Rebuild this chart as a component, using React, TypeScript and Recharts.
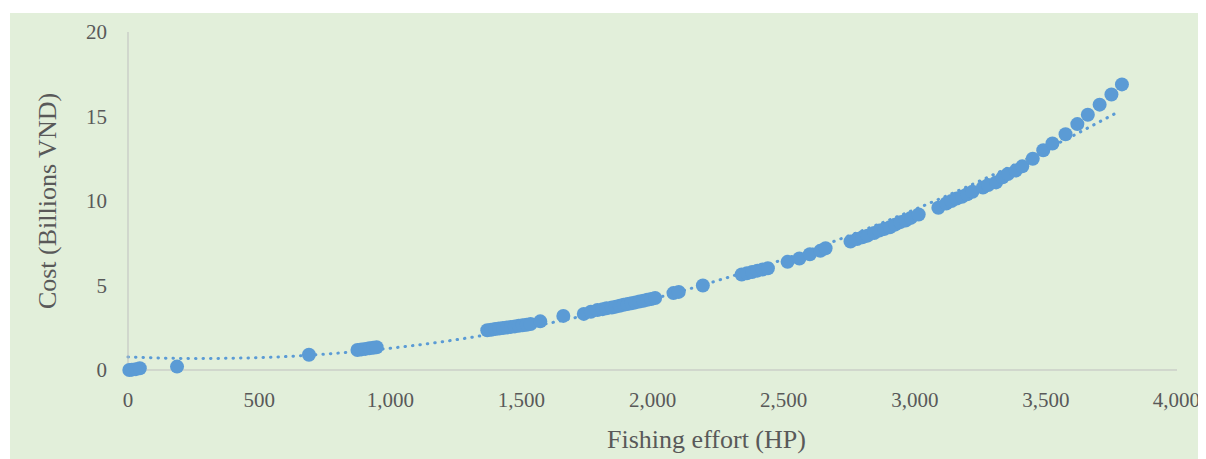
import React from "react";
import { ComposedChart, Scatter, Line, XAxis, YAxis, Label } from "recharts";

// fishing effort (HP) and cost (billions VND)
const effort = [
    5, 15, 30, 45, 187, 690,
    875, 890, 905, 920, 935, 948,
    1370, 1385, 1400, 1415, 1430, 1445, 1460, 1475, 1490, 1505, 1520, 1535, 1572,
    1660, 1738, 1765, 1790, 1810, 1825,
    1845, 1860, 1875, 1890, 1905, 1920, 1935, 1950, 1965, 1980, 1995, 2010,
    2080, 2100, 2192,
    2340, 2360, 2380, 2400, 2420, 2440,
    2515, 2560, 2600, 2640, 2660,
    2755, 2780, 2800, 2820, 2845, 2865, 2885, 2905, 2925, 2945, 2965, 2985, 3015,
    3090, 3120, 3140, 3160, 3180, 3200, 3220, 3260, 3280, 3310, 3335, 3355, 3385, 3410,
    3450, 3490, 3525, 3575, 3620, 3660, 3705, 3750, 3790,
];
const cost = [
    0.0, 0.02, 0.05, 0.1, 0.2, 0.9,
    1.18, 1.22, 1.25, 1.28, 1.32, 1.35,
    2.35, 2.38, 2.42, 2.45, 2.48, 2.52, 2.55, 2.58, 2.62, 2.65, 2.68, 2.72, 2.88,
    3.2, 3.32, 3.45, 3.55, 3.6, 3.65,
    3.7, 3.75, 3.8, 3.86, 3.9, 3.95, 4.0, 4.05, 4.1, 4.15, 4.2, 4.26,
    4.55, 4.62, 5.0,
    5.65, 5.72, 5.8, 5.88, 5.95, 6.02,
    6.4, 6.6, 6.85, 7.05, 7.2,
    7.6, 7.75, 7.85, 7.95, 8.1, 8.25, 8.35, 8.45, 8.6, 8.75, 8.85, 9.0, 9.2,
    9.6, 9.85, 10.0, 10.15, 10.25, 10.4, 10.55, 10.8, 10.95, 11.1, 11.4, 11.6, 11.8, 12.05,
    12.5, 13.0, 13.4, 13.95, 14.55, 15.1, 15.7, 16.3, 16.9,
];

// dotted trendline, read at regular steps
const trendEffort = [0, 250, 500, 750, 1000, 1250, 1500, 1750, 2000, 2250, 2500, 2750, 3000, 3250, 3500, 3770];
const trendCost = [0.77, 0.68, 0.73, 0.94, 1.29, 1.79, 2.45, 3.25, 4.2, 5.3, 6.55, 7.95, 9.5, 11.2, 13.05, 15.22];

const xTicks = [0, 500, 1000, 1500, 2000, 2500, 3000, 3500, 4000];
const yTicks = [0, 5, 10, 15, 20];

const points = effort.map((x, i) => ({ x, y: cost[i] }));
const trend = trendEffort.map((x, i) => ({ x, y: trendCost[i] }));

const BLUE = "#5b9bd5";
const TEXT = "#595959";
const FONT = "'Liberation Serif', 'Times New Roman', serif";

const Dot = (props: any) => <circle cx={props.cx} cy={props.cy} r={7} fill={BLUE} />;

export default function App() {
    return (
        <div style={{ marginLeft: 2, marginTop: 5, width: 1190, height: 446, background: "#e2efda" }}>
            <ComposedChart
                width={1190}
                height={446}
                margin={{ top: 19, right: 23, left: 0, bottom: 0 }}
                style={{ fontFamily: FONT }}
            >
                <XAxis
                    type="number"
                    dataKey="x"
                    domain={[0, 4000]}
                    ticks={xTicks}
                    tickFormatter={(v: number) => v.toLocaleString("en-US")}
                    height={89}
                    tickLine={false}
                    tickSize={0}
                    tickMargin={22}
                    stroke="#bfbfbf"
                    tick={{ fontSize: 21, fill: TEXT, fontFamily: FONT }}
                >
                    <Label
                        content={(p: any) => (
                            <text
                                x={p.viewBox.x + p.viewBox.width / 2 + 54}
                                y={p.viewBox.y + 78}
                                textAnchor="middle"
                                fontSize={26}
                                fill={TEXT}
                                fontFamily={FONT}
                            >
                                Fishing effort (HP)
                            </text>
                        )}
                    />
                </XAxis>
                <YAxis
                    type="number"
                    dataKey="y"
                    domain={[0, 20]}
                    ticks={yTicks}
                    width={118}
                    tickLine={false}
                    tickSize={0}
                    tickMargin={21}
                    stroke="#bfbfbf"
                    tick={{ fontSize: 21, fill: TEXT, fontFamily: FONT }}
                >
                    <Label
                        content={(p: any) => {
                            const cx = 37;
                            const cy = p.viewBox.y + p.viewBox.height / 2;
                            return (
                                <text
                                    x={cx}
                                    y={cy}
                                    transform={`rotate(-90 ${cx} ${cy})`}
                                    textAnchor="middle"
                                    dominantBaseline="central"
                                    fontSize={26}
                                    fill={TEXT}
                                    fontFamily={FONT}
                                >
                                    Cost (Billions VND)
                                </text>
                            );
                        }}
                    />
                </YAxis>
                <Scatter data={points} fill={BLUE} shape={<Dot />} isAnimationActive={false} />
                <Line
                    data={trend}
                    dataKey="y"
                    type="monotone"
                    stroke={BLUE}
                    strokeWidth={3}
                    strokeDasharray="0.5 7"
                    strokeLinecap="round"
                    dot={false}
                    activeDot={false}
                    isAnimationActive={false}
                />
            </ComposedChart>
        </div>
    );
}
